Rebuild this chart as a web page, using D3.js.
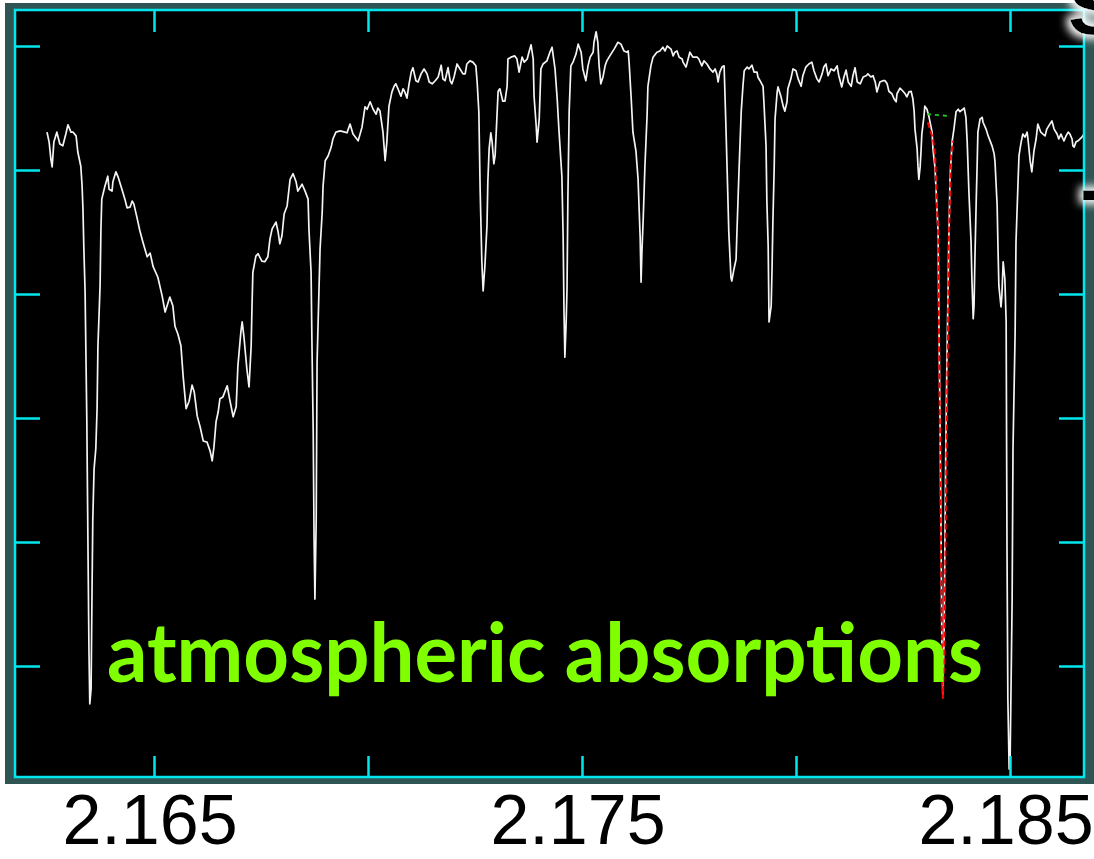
<!DOCTYPE html>
<html>
<head>
<meta charset="utf-8">
<script src="https://cdn.jsdelivr.net/npm/d3@7"></script>
<style>
  html, body { margin: 0; padding: 0; background: #ffffff; }
  svg { display: block; }
</style>
</head>
<body>
<svg id="chart" width="1094" height="859"></svg>
<script>
// ---------------- DATA ----------------
const xTicks = [2.165, 2.170, 2.175, 2.180, 2.185];
const xTickLabels = [2.165, 2.175, 2.185];
const yTicks = [0.2, 0.4, 0.6, 0.8, 1.0, 1.2];

const wavelength = [
2.16250,2.16255,2.16259,2.16262,2.16266,2.16273,2.16280,2.16287,2.16294,2.16299,
2.16306,2.16311,2.16318,2.16322,2.16329,2.16332,2.16334,2.16336,2.16339,2.16343,
2.16346,2.16348,2.16350,2.16353,2.16355,2.16357,2.16360,2.16364,2.16367,2.16369,
2.16374,2.16376,2.16378,2.16385,2.16392,2.16395,2.16402,2.16404,2.16411,2.16416,
2.16425,2.16432,2.16437,2.16444,2.16449,2.16453,2.16460,2.16467,2.16474,2.16484,
2.16491,2.16498,2.16509,2.16519,2.16526,2.16537,2.16544,2.16549,2.16556,2.16563,
2.16568,2.16575,2.16582,2.16589,2.16594,2.16601,2.16608,2.16615,2.16624,2.16631,
2.16636,2.16640,2.16645,2.16650,2.16654,2.16661,2.16671,2.16678,2.16685,2.16692,
2.16696,2.16703,2.16706,2.16710,2.16717,2.16722,2.16727,2.16729,2.16731,2.16738,
2.16743,2.16752,2.16759,2.16766,2.16771,2.16776,2.16785,2.16790,2.16794,2.16799,
2.16804,2.16811,2.16818,2.16825,2.16832,2.16836,2.16846,2.16853,2.16860,2.16862,
2.16867,2.16869,2.16872,2.16874,2.16876,2.16879,2.16881,2.16888,2.16893,2.16895,
2.16900,2.16907,2.16914,2.16918,2.16925,2.16935,2.16946,2.16951,2.16958,2.16965,
2.16977,2.16986,2.16993,2.16998,2.17005,2.17012,2.17019,2.17023,2.17028,2.17035,
2.17040,2.17044,2.17049,2.17056,2.17061,2.17065,2.17070,2.17077,2.17082,2.17086,
2.17091,2.17096,2.17101,2.17105,2.17112,2.17117,2.17124,2.17131,2.17138,2.17143,
2.17150,2.17157,2.17164,2.17171,2.17175,2.17180,2.17187,2.17192,2.17196,2.17201,
2.17208,2.17215,2.17222,2.17227,2.17231,2.17238,2.17245,2.17252,2.17255,2.17259,
2.17262,2.17266,2.17269,2.17273,2.17278,2.17280,2.17283,2.17287,2.17290,2.17294,
2.17297,2.17301,2.17304,2.17308,2.17315,2.17320,2.17325,2.17327,2.17334,2.17343,
2.17348,2.17353,2.17360,2.17365,2.17372,2.17376,2.17381,2.17386,2.17388,2.17393,
2.17395,2.17400,2.17404,2.17409,2.17418,2.17425,2.17430,2.17437,2.17442,2.17446,
2.17453,2.17456,2.17458,2.17460,2.17463,2.17465,2.17467,2.17470,2.17474,2.17479,
2.17486,2.17491,2.17498,2.17502,2.17509,2.17514,2.17519,2.17526,2.17528,2.17533,
2.17537,2.17540,2.17544,2.17549,2.17554,2.17558,2.17565,2.17575,2.17584,2.17591,
2.17598,2.17605,2.17608,2.17610,2.17615,2.17619,2.17626,2.17631,2.17636,2.17638,
2.17640,2.17643,2.17647,2.17652,2.17654,2.17661,2.17666,2.17675,2.17682,2.17689,
2.17694,2.17699,2.17708,2.17713,2.17717,2.17722,2.17727,2.17734,2.17736,2.17743,
2.17745,2.17752,2.17759,2.17769,2.17773,2.17780,2.17785,2.17792,2.17799,2.17806,
2.17811,2.17815,2.17818,2.17822,2.17827,2.17832,2.17836,2.17839,2.17843,2.17848,
2.17850,2.17855,2.17860,2.17862,2.17867,2.17872,2.17876,2.17879,2.17886,2.17890,
2.17897,2.17902,2.17909,2.17911,2.17916,2.17923,2.17925,2.17930,2.17932,2.17935,
2.17937,2.17942,2.17944,2.17946,2.17949,2.17951,2.17956,2.17958,2.17965,2.17970,
2.17974,2.17979,2.17981,2.17988,2.17993,2.18000,2.18005,2.18012,2.18016,2.18023,
2.18030,2.18037,2.18042,2.18049,2.18054,2.18061,2.18065,2.18070,2.18075,2.18082,
2.18089,2.18096,2.18100,2.18107,2.18112,2.18117,2.18122,2.18129,2.18133,2.18138,
2.18143,2.18150,2.18157,2.18164,2.18168,2.18175,2.18180,2.18185,2.18189,2.18196,
2.18203,2.18208,2.18213,2.18217,2.18224,2.18229,2.18234,2.18236,2.18243,2.18250,
2.18255,2.18259,2.18264,2.18269,2.18273,2.18276,2.18278,2.18283,2.18285,2.18287,
2.18290,2.18292,2.18294,2.18299,2.18301,2.18306,2.18311,2.18318,2.18320,2.18325,
2.18329,2.18332,2.18334,2.18336,2.18339,2.18341,2.18343,2.18346,2.18348,2.18350,
2.18353,2.18355,2.18357,2.18360,2.18365,2.18369,2.18374,2.18379,2.18383,2.18390,
2.18393,2.18397,2.18400,2.18404,2.18409,2.18411,2.18414,2.18416,2.18418,2.18421,
2.18423,2.18425,2.18430,2.18435,2.18437,2.18444,2.18449,2.18458,2.18463,2.18465,
2.18470,2.18472,2.18474,2.18479,2.18481,2.18484,2.18488,2.18491,2.18493,2.18495,
2.18498,2.18500,2.18505,2.18507,2.18512,2.18514,2.18519,2.18521,2.18526,2.18530,
2.18535,2.18540,2.18542,2.18547,2.18551,2.18556,2.18561,2.18565,2.18572,2.18577,
2.18582,2.18586,2.18593,2.18598,2.18603,2.18610,2.18614,2.18619,2.18624,2.18626,
2.18631,2.18636,2.18640,2.18645,2.18647,2.18650,2.18654,2.18659,2.18668,2.18673
];

const flux = [
1.061,1.045,1.018,1.005,1.045,1.061,1.042,1.039,1.058,1.073,
1.061,1.061,1.055,1.029,1.006,0.974,0.937,0.877,0.803,0.598,
0.373,0.227,0.139,0.163,0.308,0.437,0.518,0.550,0.615,0.716,
0.813,0.905,0.953,0.973,0.990,0.969,0.966,0.981,0.997,0.989,
0.969,0.953,0.939,0.940,0.950,0.945,0.924,0.902,0.884,0.860,
0.866,0.844,0.827,0.797,0.771,0.795,0.781,0.748,0.735,0.716,
0.668,0.615,0.627,0.653,0.642,0.603,0.585,0.563,0.561,0.547,
0.531,0.553,0.594,0.610,0.631,0.634,0.652,0.626,0.602,0.618,
0.684,0.739,0.755,0.732,0.679,0.650,0.716,0.781,0.835,0.861,
0.865,0.853,0.852,0.860,0.889,0.905,0.916,0.900,0.881,0.894,
0.929,0.942,0.985,0.994,0.981,0.966,0.977,0.966,0.953,0.905,
0.835,0.723,0.577,0.405,0.308,0.437,0.690,0.873,0.932,0.974,
1.015,1.023,1.037,1.050,1.061,1.063,1.061,1.060,1.074,1.058,
1.047,1.069,1.102,1.098,1.110,1.098,1.090,1.100,1.095,1.061,
1.015,1.045,1.103,1.126,1.135,1.139,1.131,1.119,1.131,1.126,
1.116,1.139,1.158,1.165,1.144,1.142,1.155,1.163,1.155,1.142,
1.139,1.144,1.150,1.169,1.147,1.144,1.165,1.144,1.139,1.150,
1.171,1.163,1.155,1.155,1.171,1.176,1.174,1.168,1.142,1.094,
0.969,0.852,0.805,0.844,0.910,0.981,1.034,1.060,1.045,1.010,
1.023,1.082,1.127,1.131,1.111,1.111,1.135,1.179,1.182,1.184,
1.179,1.158,1.182,1.174,1.179,1.190,1.202,1.179,1.119,1.071,
1.045,1.082,1.163,1.171,1.176,1.190,1.198,1.163,1.115,1.066,
0.990,0.889,0.771,0.698,0.755,0.808,0.953,1.094,1.168,1.174,
1.187,1.203,1.190,1.163,1.144,1.168,1.182,1.190,1.206,1.223,
1.206,1.168,1.139,1.150,1.168,1.176,1.184,1.195,1.206,1.203,
1.192,1.190,1.192,1.174,1.115,1.061,1.031,0.985,0.889,0.819,
0.868,0.921,1.006,1.087,1.135,1.168,1.182,1.190,1.192,1.198,
1.192,1.200,1.195,1.184,1.190,1.192,1.182,1.179,1.174,1.166,
1.171,1.190,1.182,1.182,1.179,1.168,1.176,1.171,1.163,1.158,
1.163,1.155,1.142,1.158,1.166,1.168,1.077,1.002,0.900,0.827,
0.821,0.840,0.856,0.900,1.002,1.094,1.135,1.160,1.166,1.163,
1.169,1.158,1.158,1.150,1.144,1.135,1.110,1.039,0.948,0.877,
0.755,0.781,0.840,0.916,1.002,1.082,1.126,1.134,1.118,1.103,
1.095,1.110,1.131,1.147,1.163,1.160,1.147,1.135,1.152,1.166,
1.171,1.174,1.160,1.147,1.142,1.155,1.166,1.171,1.152,1.163,
1.160,1.168,1.152,1.134,1.150,1.161,1.142,1.135,1.152,1.165,
1.142,1.139,1.150,1.152,1.155,1.150,1.152,1.142,1.126,1.142,
1.144,1.144,1.139,1.127,1.123,1.115,1.110,1.123,1.132,1.127,
1.123,1.118,1.126,1.127,1.115,1.095,1.066,1.034,1.006,0.985,
1.005,1.029,1.058,1.087,1.103,1.098,1.085,1.061,1.034,1.002,
0.942,0.900,0.748,0.631,0.405,0.227,0.155,0.244,0.405,0.550,
0.711,0.792,0.884,0.990,1.047,1.066,1.094,1.098,1.094,1.098,
1.100,1.085,1.045,0.965,0.884,0.824,0.760,0.781,0.856,0.948,
1.002,1.061,1.082,1.085,1.077,1.066,1.055,1.039,1.026,1.013,
0.942,0.873,0.813,0.779,0.797,0.852,0.824,0.755,0.389,0.147,
0.034,0.034,0.308,0.550,0.739,0.884,0.985,1.023,1.045,1.058,
1.053,1.061,1.050,1.015,0.997,1.031,1.050,1.074,1.061,1.058,
1.055,1.066,1.074,1.079,1.066,1.058,1.050,1.058,1.050,1.047,
1.055,1.061,1.058,1.050,1.039,1.037,1.045,1.047,1.053,1.058
];

// Gaussian line-fit model (red dashed) and continuum (green dashed)
const modelWavelength = [2.18308,2.18320,2.18325,2.18329,2.18332,2.18334,2.18336,2.18339,2.18341,2.18343,
                         2.18346,2.18348,2.18350,2.18353,2.18355,2.18357,2.18360,2.18362,2.18367];
const modelFlux = [1.077,1.050,1.023,0.942,0.905,0.748,0.598,0.373,0.244,0.147,
                   0.211,0.308,0.437,0.631,0.732,0.884,0.965,1.023,1.047];
const continuumWavelength = [2.18306, 2.18360];
const continuumFlux = [1.090, 1.087];

const annotation = "atmospheric absorptions";

// ---------------- LAYOUT ----------------
const svg = d3.select("#chart");
const frame = {x: 5, y: 3, w: 1089, h: 781};
const box = {left: 15, top: 10, right: 1084, bottom: 777};
const cyan = "#00e8ee";

const x = d3.scaleLinear().domain([2.165, 2.185]).range([154, 1010]);
const y = d3.scaleLinear().domain([0.2, 1.2]).range([666, 46]);

svg.append("rect").attr("width", 1094).attr("height", 859).attr("fill", "#ffffff");
svg.append("rect").attr("x", frame.x).attr("y", frame.y).attr("width", frame.w).attr("height", frame.h)
   .attr("fill", "#2f5454");
svg.append("rect").attr("x", box.left).attr("y", box.top)
   .attr("width", box.right - box.left).attr("height", box.bottom - box.top).attr("fill", "#000000");

const defs = svg.append("defs");
defs.append("clipPath").attr("id", "plotclip").append("rect")
   .attr("x", box.left).attr("y", box.top)
   .attr("width", box.right - box.left).attr("height", box.bottom - box.top);

const glow = defs.append("filter").attr("id", "glow").attr("x", "-50%").attr("y", "-50%").attr("width", "200%").attr("height", "200%");
glow.append("feMorphology").attr("in", "SourceAlpha").attr("operator", "dilate").attr("radius", 4).attr("result", "d");
glow.append("feGaussianBlur").attr("in", "d").attr("stdDeviation", 4).attr("result", "b");
glow.append("feFlood").attr("flood-color", "#ffffff");
glow.append("feComposite").attr("in2", "b").attr("operator", "in").attr("result", "w");
const merge = glow.append("feMerge");
merge.append("feMergeNode").attr("in", "w");
merge.append("feMergeNode").attr("in", "SourceGraphic");

// ---------------- SPECTRUM ----------------
const plot = svg.append("g").attr("clip-path", "url(#plotclip)");
const spec = wavelength.map((w, i) => [w, flux[i]]);
const line = d3.line().x(d => x(d[0])).y(d => y(d[1]));

plot.append("path").datum(spec).attr("d", line)
    .attr("fill", "none").attr("stroke", "#f4f4f4").attr("stroke-width", 1.7)
    .attr("stroke-linejoin", "round");

const model = modelWavelength.map((w, i) => [w, modelFlux[i]]);
plot.append("path").datum(model).attr("d", line)
    .attr("fill", "none").attr("stroke", "#ff0000").attr("stroke-width", 2)
    .attr("stroke-dasharray", "6,3");

const cont = continuumWavelength.map((w, i) => [w, continuumFlux[i]]);
plot.append("path").datum(cont).attr("d", line)
    .attr("fill", "none").attr("stroke", "#1ec81e").attr("stroke-width", 1.8)
    .attr("stroke-dasharray", "4,4");

// ---------------- AXES ----------------
function styleAxis(g) {
  g.select(".domain").remove();
  g.selectAll(".tick line").attr("stroke", cyan).attr("stroke-width", 2.5);
  g.selectAll(".tick text").remove();
}
svg.append("g").attr("transform", `translate(0,${box.bottom})`)
   .call(d3.axisBottom(x).tickValues(xTicks).tickSize(-21).tickFormat("")).call(styleAxis);
svg.append("g").attr("transform", `translate(0,${box.top})`)
   .call(d3.axisTop(x).tickValues(xTicks).tickSize(-22).tickFormat("")).call(styleAxis);
svg.append("g").attr("transform", `translate(${box.left},0)`)
   .call(d3.axisLeft(y).tickValues(yTicks).tickSize(-25).tickFormat("")).call(styleAxis);
svg.append("g").attr("transform", `translate(${box.right},0)`)
   .call(d3.axisRight(y).tickValues(yTicks).tickSize(-25).tickFormat("")).call(styleAxis);

svg.append("rect").attr("x", box.left).attr("y", box.top)
   .attr("width", box.right - box.left).attr("height", box.bottom - box.top)
   .attr("fill", "none").attr("stroke", cyan).attr("stroke-width", 2.5);

// tick labels below frame
svg.append("g").selectAll("text").data(xTickLabels).join("text")
   .attr("x", d => x(d) - 4).attr("y", 844)
   .attr("text-anchor", "middle")
   .attr("font-family", "'Liberation Sans', Arial, sans-serif")
   .attr("font-size", 70).attr("fill", "#000000")
   .text(d => d3.format(".3f")(d));

// annotation
svg.append("text").attr("x", 107).attr("y", 682)
   .attr("font-family", "Lato, 'Open Sans', sans-serif").attr("font-weight", "bold")
   .attr("font-size", 83).attr("fill", "#80ff00")
   .attr("textLength", 876).attr("lengthAdjust", "spacingAndGlyphs")
   .text(annotation);

// partial slide text fragments (black with white glow) at right edge
svg.append("text").attr("x", 1068).attr("y", 34)
   .attr("font-family", "'Liberation Sans', sans-serif").attr("font-weight", "bold")
   .attr("font-size", 80).attr("fill", "#000000").attr("filter", "url(#glow)")
   .text("S");
svg.append("text").attr("x", 1080).attr("y", 216)
   .attr("font-family", "'Liberation Sans', sans-serif").attr("font-weight", "bold")
   .attr("font-size", 80).attr("fill", "#000000").attr("filter", "url(#glow)")
   .text("-");
</script>
</body>
</html>
